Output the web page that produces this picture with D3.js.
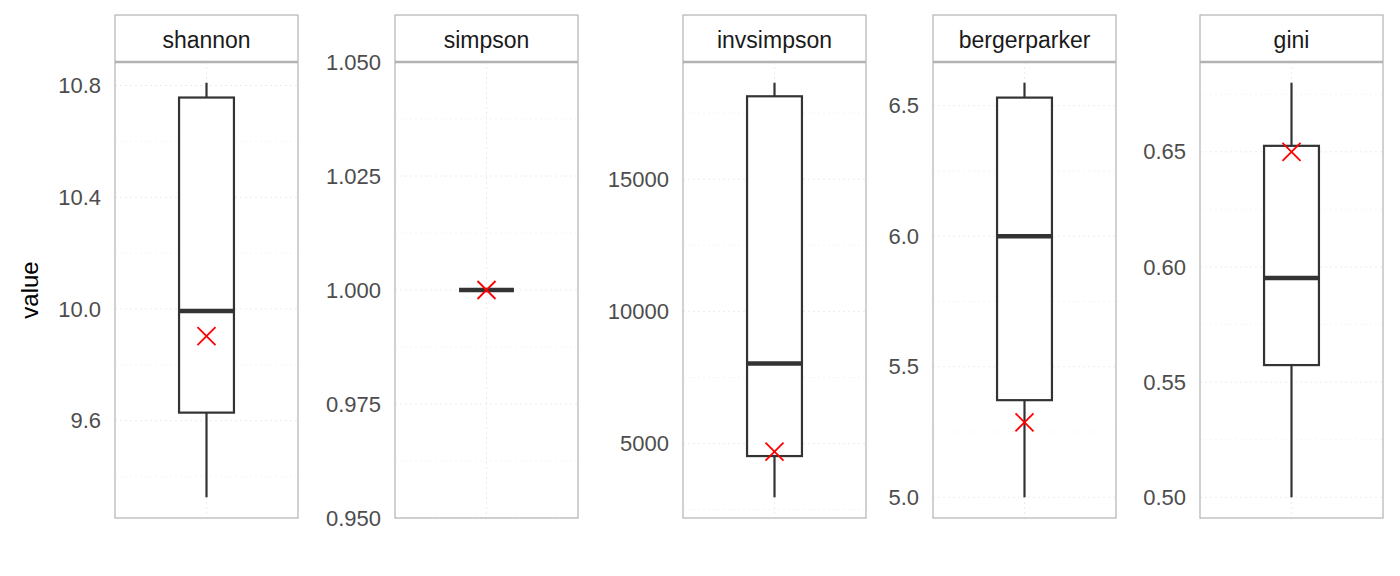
<!DOCTYPE html>
<html><head><meta charset="utf-8">
<script src="https://cdn.jsdelivr.net/npm/d3@7"></script>
<style>body{margin:0;background:#fff;font-family:"Liberation Sans",Arial,sans-serif}</style>
</head><body>
<svg id="chart" width="1400" height="576"></svg>
<script>
// one box per diversity index
const metrics = ['shannon', 'simpson', 'invsimpson', 'bergerparker', 'gini'];
const whiskerLow = [9.326, 1.0, 2966, 5.0, 0.50];
const boxLow = [9.629, 1.0, 4525, 5.372, 0.5574];
const medians = [9.993, 1.0, 8023, 6.0, 0.5952];
const boxHigh = [10.757, 1.0, 18137, 6.531, 0.6526];
const whiskerHigh = [10.81, 1.0, 18650, 6.588, 0.680];
const means = [9.903, 1.0, 4696, 5.287, 0.65];
const tickValues = [
  [9.6, 10.0, 10.4, 10.8],
  [0.950, 0.975, 1.000, 1.025, 1.050],
  [5000, 10000, 15000],
  [5.0, 5.5, 6.0, 6.5],
  [0.50, 0.55, 0.60, 0.65]
];
const tickFormats = ['.1f', '.3f', 'd', '.1f', '.2f'];

const panelLeft = [115, 395, 683, 933, 1200];
const panelW = 183, stripTop = 15, panelTop = 62, panelBottom = 518;

const svg = d3.select('#chart');

svg.append('text').attr('transform', 'translate(38,' + (panelTop + panelBottom) / 2 + ') rotate(-90)')
  .attr('text-anchor', 'middle').attr('font-size', 24).attr('fill', '#000').text('value');

metrics.forEach((m, i) => {
  const x0 = panelLeft[i];
  let lo = whiskerLow[i], hi = whiskerHigh[i];
  let pad = (hi - lo) * 0.05;
  if (pad === 0) pad = 0.05 * Math.abs(hi);
  const y = d3.scaleLinear().domain([lo - pad, hi + pad]).range([panelBottom, panelTop]);
  const x = d3.scaleBand().domain([m]).range([x0, x0 + panelW]).paddingInner(0).paddingOuter(0);
  const cx = x(m) + x.bandwidth() / 2;
  const bw = panelW * 0.3;

  const g = svg.append('g');
  const ticks = tickValues[i];
  const step = ticks[1] - ticks[0];
  const minor = [];
  for (let k = -1; k < ticks.length; k++) minor.push(ticks[0] + step * (k + 0.5));
  const dom = y.domain();
  minor.filter(v => v > dom[0] && v < dom[1]).forEach(v => {
    g.append('line').attr('x1', x0).attr('x2', x0 + panelW).attr('y1', y(v)).attr('y2', y(v))
      .attr('stroke', '#f5f5f5').attr('stroke-width', 1).attr('stroke-dasharray', '2,3');
  });
  ticks.forEach(v => {
    g.append('line').attr('x1', x0).attr('x2', x0 + panelW).attr('y1', y(v)).attr('y2', y(v))
      .attr('stroke', '#ececec').attr('stroke-width', 1).attr('stroke-dasharray', '2,3');
  });
  g.append('line').attr('x1', cx).attr('x2', cx).attr('y1', panelTop).attr('y2', panelBottom)
    .attr('stroke', '#ececec').attr('stroke-dasharray', '2,3');

  // axis
  const ax = svg.append('g').attr('transform', 'translate(' + x0 + ',0)')
    .call(d3.axisLeft(y).tickValues(ticks).tickFormat(d3.format(tickFormats[i])).tickSize(0).tickPadding(14));
  ax.select('.domain').remove();
  ax.selectAll('text').attr('font-size', 22).attr('fill', '#4d4d4d').attr('font-family', '"Liberation Sans",Arial,sans-serif');

  // box
  const col = '#333';
  g.append('line').attr('x1', cx).attr('x2', cx).attr('y1', y(whiskerLow[i])).attr('y2', y(boxLow[i])).attr('stroke', col).attr('stroke-width', 2.2);
  g.append('line').attr('x1', cx).attr('x2', cx).attr('y1', y(boxHigh[i])).attr('y2', y(whiskerHigh[i])).attr('stroke', col).attr('stroke-width', 2.2);
  g.append('rect').attr('x', cx - bw / 2).attr('width', bw).attr('y', y(boxHigh[i]))
    .attr('height', Math.max(0, y(boxLow[i]) - y(boxHigh[i]))).attr('fill', '#fff').attr('stroke', col).attr('stroke-width', 2.2);
  g.append('line').attr('x1', cx - bw / 2).attr('x2', cx + bw / 2).attr('y1', y(medians[i])).attr('y2', y(medians[i]))
    .attr('stroke', col).attr('stroke-width', 4.5);
  const my = y(means[i]), s = 9;
  g.append('path').attr('d', `M${cx - s},${my - s}L${cx + s},${my + s}M${cx - s},${my + s}L${cx + s},${my - s}`)
    .attr('stroke', '#ff0000').attr('stroke-width', 1.8).attr('fill', 'none');

  // panel border and strip
  svg.append('rect').attr('x', x0).attr('y', stripTop).attr('width', panelW).attr('height', panelBottom - stripTop)
    .attr('fill', 'none').attr('stroke', '#b3b3b3').attr('stroke-width', 1.2);
  svg.append('line').attr('x1', x0).attr('x2', x0 + panelW).attr('y1', panelTop).attr('y2', panelTop)
    .attr('stroke', '#b3b3b3').attr('stroke-width', 2.5);
  svg.append('text').attr('x', x0 + panelW / 2).attr('y', 48).attr('text-anchor', 'middle')
    .attr('font-size', 23).attr('fill', '#1a1a1a').text(m);
});
</script>
</body></html>
